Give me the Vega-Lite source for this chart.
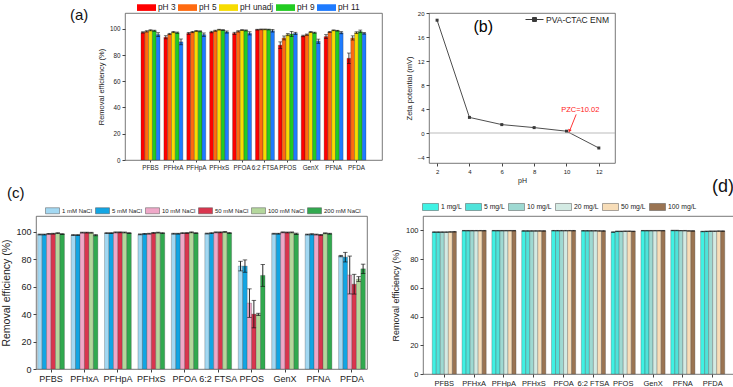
{
  "$schema": "https://vega.github.io/schema/vega-lite/v6.json",
  "padding": {"left": 1, "top": -3, "right": 0, "bottom": 0},
  "background": "white",
  "vconcat": [
    {
      "hconcat": [
        {"width": 89, "height": 1, "view": {"stroke": null}, "data": {"values": []}, "mark": "point", "encoding": {}},
        {
          "width": 257, "height": 147,
          "data": {"name": "a"},
          "title": {"text": "(a)", "anchor": "start", "frame": "group", "fontSize": 15, "dx": -55, "dy": 25, "offset": 0},
          "encoding": {
            "x": {"field": "cmp", "type": "nominal", "sort": ["PFBS","PFHxA","PFHpA","PFHxS","PFOA","6:2 FTSA","PFOS","GenX","PFNA","PFDA"], "scale": {"paddingInner": 0.17, "paddingOuter": 0.7}, "axis": {"title": null, "labelAngle": 0, "labelFontSize": 6.3, "labelPadding": 2, "tickSize": 2}},
            "xOffset": {"field": "grp", "type": "nominal", "sort": ["pH 3","pH 5","pH unadj","pH 9","pH 11"]},
            "y": {"field": "v", "type": "quantitative", "scale": {"domain": [0, 112], "nice": false}, "axis": {"values": [0,20,40,60,80,100], "tickCount": 20, "format": "d", "title": "Removal efficiency (%)", "titleFontSize": 7.5, "labelFontSize": 6.3, "titlePadding": 4}}
          },
          "layer": [
            {"mark": {"type": "bar", "stroke": "#333", "strokeWidth": 0.3},
             "encoding": {"color": {"field": "grp", "type": "nominal", "sort": ["pH 3","pH 5","pH unadj","pH 9","pH 11"],
               "scale": {"domain": ["pH 3","pH 5","pH unadj","pH 9","pH 11"], "range": ["#FF0000","#FF6A10","#F7DC00","#22CC22","#1E7BFF"]},
               "legend": {"orient": "none", "legendX": 12, "legendY": -15, "direction": "horizontal", "title": null, "symbolType": "M-1,-0.35H1V0.35H-1Z", "symbolSize": 361, "symbolOpacity": 1, "symbolStrokeWidth": 0, "labelFontSize": 8.3, "labelOffset": 2, "columnPadding": 2}}}},
            {"mark": {"type": "errorbar", "ticks": true, "color": "#111", "thickness": 0.8}, "encoding": {"yError": {"field": "e"}}}
          ]
        },
        {"width": 47, "height": 1, "view": {"stroke": null}, "data": {"values": []}, "mark": "point", "encoding": {}},
        {
          "width": 186, "height": 150,
          "layer": [
            {"data": {"name": "b"},
             "mark": {"type": "line", "strokeWidth": 0.9, "point": {"shape": "square", "size": 9, "filled": true}},
             "encoding": {
               "x": {"field": "pH", "type": "quantitative", "scale": {"domain": [1.5, 13], "nice": false, "zero": false}, "axis": {"values": [2,4,6,8,10,12], "tickCount": 20, "format": "d", "labelOverlap": false, "title": "pH", "titleFontSize": 7, "titlePadding": 2, "labelFontSize": 6, "tickSize": 3}},
               "y": {"field": "zeta", "type": "quantitative", "scale": {"domain": [-5, 20], "nice": false, "zero": false}, "axis": {"values": [-4,0,4,8,12,16,20], "tickCount": 20, "format": "d", "labelOverlap": false, "title": "Zeta potential (mV)", "titleFontSize": 7.5, "labelFontSize": 6, "titlePadding": 4}},
               "color": {"field": "series", "type": "nominal", "scale": {"range": ["#3a3a3a"]},
                 "legend": {"orient": "none", "legendX": 96, "legendY": -3, "title": null, "symbolType": "M-1,0H1M-0.22,-0.22H0.22V0.22H-0.22Z", "symbolSize": 324, "symbolStrokeWidth": 1, "symbolFillColor": "#3a3a3a", "labelFontSize": 8.5, "labelOffset": 2}}
             }},
            {"data": {"values": [{}]}, "mark": {"type": "rule", "color": "#aaaaaa", "strokeWidth": 0.8}, "encoding": {"y": {"datum": 0, "type": "quantitative"}}},
            {"data": {"values": [{}]}, "mark": {"type": "text", "fontSize": 16, "baseline": "middle", "align": "center"}, "encoding": {"x": {"datum": 4.85}, "y": {"datum": 17.7}, "text": {"value": "(b)"}}},
            {"data": {"values": [{}]}, "mark": {"type": "text", "fontSize": 7.5, "baseline": "middle", "align": "center", "color": "#ff2020"}, "encoding": {"x": {"datum": 10.85}, "y": {"datum": 3.9}, "text": {"value": "PZC=10.02"}}},
            {"data": {"values": [{}]}, "mark": {"type": "rule", "color": "#ff2020", "strokeWidth": 0.9}, "encoding": {"x": {"datum": 10.6}, "y": {"datum": 3.1}, "x2": {"datum": 10.2}, "y2": {"datum": 0.4}}},
            {"data": {"values": [{}]}, "mark": {"type": "point", "shape": "triangle-up", "filled": true, "color": "#ff2020", "size": 14, "angle": 200, "opacity": 1}, "encoding": {"x": {"datum": 10.18}, "y": {"datum": 0.35}}}
          ]
        }
      ],
      "bounds": "flush",
      "spacing": 0,
      "resolve": {"scale": {"color": "independent", "x": "independent", "y": "independent", "xOffset": "independent"}, "legend": {"color": "independent"}}
    },
    {
      "hconcat": [
        {
          "width": 331, "height": 153,
          "data": {"name": "c"},
          "title": {"text": "(c)", "anchor": "start", "frame": "group", "fontSize": 15, "dx": -29, "dy": -2, "offset": 0},
          "encoding": {
            "x": {"field": "cmp", "type": "nominal", "sort": ["PFBS","PFHxA","PFHpA","PFHxS","PFOA","6:2 FTSA","PFOS","GenX","PFNA","PFDA"], "scale": {"paddingInner": 0.2, "paddingOuter": 0.05}, "axis": {"title": null, "labelAngle": 0, "labelFontSize": 9, "labelPadding": 2, "tickSize": 3}},
            "xOffset": {"field": "grp", "type": "nominal", "sort": ["1 mM NaCl","5 mM NaCl","10 mM NaCl","50 mM NaCl","100 mM NaCl","200 mM NaCl"]},
            "y": {"field": "v", "type": "quantitative", "scale": {"domain": [0, 111.5], "nice": false}, "axis": {"values": [0,20,40,60,80,100], "tickCount": 20, "format": "d", "title": "Removal efficiency (%)", "titleFontSize": 10.5, "labelFontSize": 9, "titlePadding": 4}}
          },
          "layer": [
            {"mark": {"type": "bar", "stroke": "#444", "strokeWidth": 0.3},
             "encoding": {"color": {"field": "grp", "type": "nominal",
               "scale": {"domain": ["1 mM NaCl","5 mM NaCl","10 mM NaCl","50 mM NaCl","100 mM NaCl","200 mM NaCl"], "range": ["#A3D8F2","#12A5E3","#EFA8C8","#D9354E","#B4D79C","#31A94F"]},
               "legend": {"orient": "none", "legendX": 9, "legendY": -13, "direction": "horizontal", "title": null, "symbolType": "M-1,-0.43H1V0.43H-1Z", "symbolSize": 196, "symbolOpacity": 1, "symbolStrokeColor": "#555", "symbolStrokeWidth": 0.5, "labelFontSize": 6, "labelOffset": 2, "columnPadding": 1}}}},
            {"mark": {"type": "errorbar", "ticks": true, "color": "#111", "thickness": 0.9}, "encoding": {"yError": {"field": "e"}}}
          ]
        },
        {"width": 56, "height": 1, "view": {"stroke": null}, "data": {"values": []}, "mark": "point", "encoding": {}},
        {
          "width": 311, "height": 158,
          "data": {"name": "d"},
          "title": {"text": "(d)", "anchor": "end", "frame": "group", "fontSize": 18, "dx": 0, "dy": -2, "offset": 0},
          "encoding": {
            "x": {"field": "cmp", "type": "nominal", "sort": ["PFBS","PFHxA","PFHpA","PFHxS","PFOA","6:2 FTSA","PFOS","GenX","PFNA","PFDA"], "scale": {"paddingInner": 0.19, "paddingOuter": 0.31}, "axis": {"title": null, "labelAngle": 0, "labelFontSize": 7.5, "labelPadding": 2, "tickSize": 3}},
            "xOffset": {"field": "grp", "type": "nominal", "sort": ["1 mg/L","5 mg/L","10 mg/L","20 mg/L","50 mg/L","100 mg/L"]},
            "y": {"field": "v", "type": "quantitative", "scale": {"domain": [0, 110], "nice": false}, "axis": {"values": [0,20,40,60,80,100], "tickCount": 20, "format": "d", "title": "Removal efficiency (%)", "titleFontSize": 9, "labelFontSize": 7.5, "titlePadding": 5}}
          },
          "layer": [
            {"mark": {"type": "bar", "stroke": "#444", "strokeWidth": 0.3},
             "encoding": {"color": {"field": "grp", "type": "nominal",
               "scale": {"domain": ["1 mg/L","5 mg/L","10 mg/L","20 mg/L","50 mg/L","100 mg/L"], "range": ["#3FF2E4","#4FE3DA","#9ED9D2","#D3EAE3","#F7DDB8","#9A7452"]},
               "legend": {"orient": "none", "legendX": -1, "legendY": -18, "direction": "horizontal", "title": null, "symbolType": "M-1,-0.44H1V0.44H-1Z", "symbolSize": 256, "symbolOpacity": 1, "symbolStrokeColor": "#555", "symbolStrokeWidth": 0.5, "labelFontSize": 6.8, "labelOffset": 2, "columnPadding": 2}}}},
            {"mark": {"type": "errorbar", "ticks": true, "color": "#111", "thickness": 0.8}, "encoding": {"yError": {"field": "e"}}}
          ]
        }
      ],
      "bounds": "flush",
      "spacing": 0,
      "resolve": {"scale": {"color": "independent", "x": "independent", "y": "independent", "xOffset": "independent"}, "legend": {"color": "independent"}}
    }
  ],
  "spacing": -7,
  "resolve": {"scale": {"color": "independent", "x": "independent", "y": "independent", "xOffset": "independent"}, "legend": {"color": "independent"}},
  "datasets": {
    "a": [
      {"cmp": "PFBS", "grp": "pH 3", "v": 97.2, "e": 0.5}, {"cmp": "PFBS", "grp": "pH 5", "v": 98.0, "e": 0.5}, {"cmp": "PFBS", "grp": "pH unadj", "v": 98.8, "e": 0.4}, {"cmp": "PFBS", "grp": "pH 9", "v": 98.5, "e": 0.4}, {"cmp": "PFBS", "grp": "pH 11", "v": 95.5, "e": 1.5},
      {"cmp": "PFHxA", "grp": "pH 3", "v": 93.5, "e": 1.2}, {"cmp": "PFHxA", "grp": "pH 5", "v": 96.0, "e": 0.5}, {"cmp": "PFHxA", "grp": "pH unadj", "v": 97.5, "e": 0.5}, {"cmp": "PFHxA", "grp": "pH 9", "v": 97.0, "e": 0.5}, {"cmp": "PFHxA", "grp": "pH 11", "v": 90.0, "e": 2.2},
      {"cmp": "PFHpA", "grp": "pH 3", "v": 96.5, "e": 0.7}, {"cmp": "PFHpA", "grp": "pH 5", "v": 97.5, "e": 0.5}, {"cmp": "PFHpA", "grp": "pH unadj", "v": 98.3, "e": 0.4}, {"cmp": "PFHpA", "grp": "pH 9", "v": 98.0, "e": 0.4}, {"cmp": "PFHpA", "grp": "pH 11", "v": 95.5, "e": 1.3},
      {"cmp": "PFHxS", "grp": "pH 3", "v": 97.5, "e": 0.6}, {"cmp": "PFHxS", "grp": "pH 5", "v": 98.5, "e": 0.4}, {"cmp": "PFHxS", "grp": "pH unadj", "v": 99.3, "e": 0.3}, {"cmp": "PFHxS", "grp": "pH 9", "v": 99.0, "e": 0.3}, {"cmp": "PFHxS", "grp": "pH 11", "v": 97.5, "e": 0.8},
      {"cmp": "PFOA", "grp": "pH 3", "v": 96.5, "e": 0.8}, {"cmp": "PFOA", "grp": "pH 5", "v": 98.0, "e": 0.5}, {"cmp": "PFOA", "grp": "pH unadj", "v": 99.0, "e": 0.3}, {"cmp": "PFOA", "grp": "pH 9", "v": 98.7, "e": 0.4}, {"cmp": "PFOA", "grp": "pH 11", "v": 96.5, "e": 1.2},
      {"cmp": "6:2 FTSA", "grp": "pH 3", "v": 99.3, "e": 0.3}, {"cmp": "6:2 FTSA", "grp": "pH 5", "v": 99.5, "e": 0.3}, {"cmp": "6:2 FTSA", "grp": "pH unadj", "v": 99.5, "e": 0.3}, {"cmp": "6:2 FTSA", "grp": "pH 9", "v": 99.4, "e": 0.3}, {"cmp": "6:2 FTSA", "grp": "pH 11", "v": 98.5, "e": 1.0},
      {"cmp": "PFOS", "grp": "pH 3", "v": 87.5, "e": 2.5}, {"cmp": "PFOS", "grp": "pH 5", "v": 93.0, "e": 1.5}, {"cmp": "PFOS", "grp": "pH unadj", "v": 95.5, "e": 0.8}, {"cmp": "PFOS", "grp": "pH 9", "v": 96.0, "e": 2.0}, {"cmp": "PFOS", "grp": "pH 11", "v": 96.5, "e": 0.8},
      {"cmp": "GenX", "grp": "pH 3", "v": 94.5, "e": 0.6}, {"cmp": "GenX", "grp": "pH 5", "v": 95.5, "e": 0.5}, {"cmp": "GenX", "grp": "pH unadj", "v": 97.5, "e": 0.4}, {"cmp": "GenX", "grp": "pH 9", "v": 97.0, "e": 0.4}, {"cmp": "GenX", "grp": "pH 11", "v": 90.5, "e": 1.6},
      {"cmp": "PFNA", "grp": "pH 3", "v": 94.0, "e": 1.5}, {"cmp": "PFNA", "grp": "pH 5", "v": 97.5, "e": 0.4}, {"cmp": "PFNA", "grp": "pH unadj", "v": 98.8, "e": 0.3}, {"cmp": "PFNA", "grp": "pH 9", "v": 98.5, "e": 0.3}, {"cmp": "PFNA", "grp": "pH 11", "v": 97.0, "e": 0.8},
      {"cmp": "PFDA", "grp": "pH 3", "v": 77.5, "e": 4.0}, {"cmp": "PFDA", "grp": "pH 5", "v": 93.0, "e": 1.6}, {"cmp": "PFDA", "grp": "pH unadj", "v": 97.0, "e": 0.7}, {"cmp": "PFDA", "grp": "pH 9", "v": 98.0, "e": 1.0}, {"cmp": "PFDA", "grp": "pH 11", "v": 96.5, "e": 0.6}
    ],
    "b": [
      {"series": "PVA-CTAC ENM", "pH": 2, "zeta": 18.8},
      {"series": "PVA-CTAC ENM", "pH": 4, "zeta": 2.6},
      {"series": "PVA-CTAC ENM", "pH": 6, "zeta": 1.4},
      {"series": "PVA-CTAC ENM", "pH": 8, "zeta": 0.9},
      {"series": "PVA-CTAC ENM", "pH": 10, "zeta": 0.3},
      {"series": "PVA-CTAC ENM", "pH": 12, "zeta": -2.5}
    ],
    "c": [
      {"cmp": "PFBS", "grp": "1 mM NaCl", "v": 98.0, "e": 0.3}, {"cmp": "PFBS", "grp": "5 mM NaCl", "v": 98.0, "e": 0.3}, {"cmp": "PFBS", "grp": "10 mM NaCl", "v": 98.5, "e": 0.3}, {"cmp": "PFBS", "grp": "50 mM NaCl", "v": 98.6, "e": 0.3}, {"cmp": "PFBS", "grp": "100 mM NaCl", "v": 99.0, "e": 0.3}, {"cmp": "PFBS", "grp": "200 mM NaCl", "v": 98.3, "e": 0.3},
      {"cmp": "PFHxA", "grp": "1 mM NaCl", "v": 97.6, "e": 0.3}, {"cmp": "PFHxA", "grp": "5 mM NaCl", "v": 97.6, "e": 0.3}, {"cmp": "PFHxA", "grp": "10 mM NaCl", "v": 99.4, "e": 0.3}, {"cmp": "PFHxA", "grp": "50 mM NaCl", "v": 99.4, "e": 0.3}, {"cmp": "PFHxA", "grp": "100 mM NaCl", "v": 99.3, "e": 0.3}, {"cmp": "PFHxA", "grp": "200 mM NaCl", "v": 97.5, "e": 0.4},
      {"cmp": "PFHpA", "grp": "1 mM NaCl", "v": 99.0, "e": 0.3}, {"cmp": "PFHpA", "grp": "5 mM NaCl", "v": 99.0, "e": 0.3}, {"cmp": "PFHpA", "grp": "10 mM NaCl", "v": 99.6, "e": 0.3}, {"cmp": "PFHpA", "grp": "50 mM NaCl", "v": 99.6, "e": 0.3}, {"cmp": "PFHpA", "grp": "100 mM NaCl", "v": 99.5, "e": 0.3}, {"cmp": "PFHpA", "grp": "200 mM NaCl", "v": 99.0, "e": 0.3},
      {"cmp": "PFHxS", "grp": "1 mM NaCl", "v": 98.1, "e": 0.3}, {"cmp": "PFHxS", "grp": "5 mM NaCl", "v": 98.5, "e": 0.3}, {"cmp": "PFHxS", "grp": "10 mM NaCl", "v": 98.6, "e": 0.3}, {"cmp": "PFHxS", "grp": "50 mM NaCl", "v": 99.2, "e": 0.3}, {"cmp": "PFHxS", "grp": "100 mM NaCl", "v": 99.4, "e": 0.3}, {"cmp": "PFHxS", "grp": "200 mM NaCl", "v": 99.0, "e": 0.3},
      {"cmp": "PFOA", "grp": "1 mM NaCl", "v": 98.6, "e": 0.3}, {"cmp": "PFOA", "grp": "5 mM NaCl", "v": 98.6, "e": 0.3}, {"cmp": "PFOA", "grp": "10 mM NaCl", "v": 99.0, "e": 0.3}, {"cmp": "PFOA", "grp": "50 mM NaCl", "v": 99.1, "e": 0.3}, {"cmp": "PFOA", "grp": "100 mM NaCl", "v": 99.6, "e": 0.3}, {"cmp": "PFOA", "grp": "200 mM NaCl", "v": 99.0, "e": 0.3},
      {"cmp": "6:2 FTSA", "grp": "1 mM NaCl", "v": 98.7, "e": 0.3}, {"cmp": "6:2 FTSA", "grp": "5 mM NaCl", "v": 99.0, "e": 0.3}, {"cmp": "6:2 FTSA", "grp": "10 mM NaCl", "v": 99.6, "e": 0.3}, {"cmp": "6:2 FTSA", "grp": "50 mM NaCl", "v": 99.6, "e": 0.3}, {"cmp": "6:2 FTSA", "grp": "100 mM NaCl", "v": 99.9, "e": 0.3}, {"cmp": "6:2 FTSA", "grp": "200 mM NaCl", "v": 99.1, "e": 0.3},
      {"cmp": "PFOS", "grp": "1 mM NaCl", "v": 75.0, "e": 3.5}, {"cmp": "PFOS", "grp": "5 mM NaCl", "v": 75.0, "e": 4.5}, {"cmp": "PFOS", "grp": "10 mM NaCl", "v": 48.0, "e": 10.4}, {"cmp": "PFOS", "grp": "50 mM NaCl", "v": 40.0, "e": 10.0}, {"cmp": "PFOS", "grp": "100 mM NaCl", "v": 39.8, "e": 0.8}, {"cmp": "PFOS", "grp": "200 mM NaCl", "v": 68.2, "e": 8.0},
      {"cmp": "GenX", "grp": "1 mM NaCl", "v": 98.6, "e": 0.3}, {"cmp": "GenX", "grp": "5 mM NaCl", "v": 98.6, "e": 0.3}, {"cmp": "GenX", "grp": "10 mM NaCl", "v": 99.6, "e": 0.3}, {"cmp": "GenX", "grp": "50 mM NaCl", "v": 99.5, "e": 0.3}, {"cmp": "GenX", "grp": "100 mM NaCl", "v": 99.5, "e": 0.3}, {"cmp": "GenX", "grp": "200 mM NaCl", "v": 98.5, "e": 0.5},
      {"cmp": "PFNA", "grp": "1 mM NaCl", "v": 98.0, "e": 0.3}, {"cmp": "PFNA", "grp": "5 mM NaCl", "v": 98.2, "e": 0.4}, {"cmp": "PFNA", "grp": "10 mM NaCl", "v": 98.0, "e": 0.3}, {"cmp": "PFNA", "grp": "50 mM NaCl", "v": 97.7, "e": 0.3}, {"cmp": "PFNA", "grp": "100 mM NaCl", "v": 98.9, "e": 0.3}, {"cmp": "PFNA", "grp": "200 mM NaCl", "v": 98.6, "e": 0.3},
      {"cmp": "PFDA", "grp": "1 mM NaCl", "v": 82.3, "e": 0.5}, {"cmp": "PFDA", "grp": "5 mM NaCl", "v": 81.5, "e": 3.5}, {"cmp": "PFDA", "grp": "10 mM NaCl", "v": 68.5, "e": 13.8}, {"cmp": "PFDA", "grp": "50 mM NaCl", "v": 61.8, "e": 7.2}, {"cmp": "PFDA", "grp": "100 mM NaCl", "v": 65.5, "e": 1.8}, {"cmp": "PFDA", "grp": "200 mM NaCl", "v": 73.0, "e": 3.4}
    ],
    "d": [
      {"cmp": "PFBS", "grp": "1 mg/L", "v": 98.8, "e": 0.2}, {"cmp": "PFBS", "grp": "5 mg/L", "v": 98.8, "e": 0.2}, {"cmp": "PFBS", "grp": "10 mg/L", "v": 98.8, "e": 0.2}, {"cmp": "PFBS", "grp": "20 mg/L", "v": 98.8, "e": 0.2}, {"cmp": "PFBS", "grp": "50 mg/L", "v": 98.9, "e": 0.2}, {"cmp": "PFBS", "grp": "100 mg/L", "v": 99.0, "e": 0.2},
      {"cmp": "PFHxA", "grp": "1 mg/L", "v": 99.8, "e": 0.2}, {"cmp": "PFHxA", "grp": "5 mg/L", "v": 99.8, "e": 0.2}, {"cmp": "PFHxA", "grp": "10 mg/L", "v": 99.8, "e": 0.2}, {"cmp": "PFHxA", "grp": "20 mg/L", "v": 99.8, "e": 0.2}, {"cmp": "PFHxA", "grp": "50 mg/L", "v": 99.8, "e": 0.2}, {"cmp": "PFHxA", "grp": "100 mg/L", "v": 99.8, "e": 0.2},
      {"cmp": "PFHpA", "grp": "1 mg/L", "v": 99.8, "e": 0.2}, {"cmp": "PFHpA", "grp": "5 mg/L", "v": 99.8, "e": 0.2}, {"cmp": "PFHpA", "grp": "10 mg/L", "v": 99.8, "e": 0.2}, {"cmp": "PFHpA", "grp": "20 mg/L", "v": 99.8, "e": 0.2}, {"cmp": "PFHpA", "grp": "50 mg/L", "v": 99.8, "e": 0.2}, {"cmp": "PFHpA", "grp": "100 mg/L", "v": 99.8, "e": 0.2},
      {"cmp": "PFHxS", "grp": "1 mg/L", "v": 99.6, "e": 0.2}, {"cmp": "PFHxS", "grp": "5 mg/L", "v": 99.6, "e": 0.2}, {"cmp": "PFHxS", "grp": "10 mg/L", "v": 99.6, "e": 0.2}, {"cmp": "PFHxS", "grp": "20 mg/L", "v": 99.6, "e": 0.2}, {"cmp": "PFHxS", "grp": "50 mg/L", "v": 99.6, "e": 0.2}, {"cmp": "PFHxS", "grp": "100 mg/L", "v": 99.6, "e": 0.2},
      {"cmp": "PFOA", "grp": "1 mg/L", "v": 99.8, "e": 0.2}, {"cmp": "PFOA", "grp": "5 mg/L", "v": 99.8, "e": 0.2}, {"cmp": "PFOA", "grp": "10 mg/L", "v": 99.8, "e": 0.2}, {"cmp": "PFOA", "grp": "20 mg/L", "v": 99.8, "e": 0.2}, {"cmp": "PFOA", "grp": "50 mg/L", "v": 99.8, "e": 0.2}, {"cmp": "PFOA", "grp": "100 mg/L", "v": 99.8, "e": 0.2},
      {"cmp": "6:2 FTSA", "grp": "1 mg/L", "v": 99.7, "e": 0.2}, {"cmp": "6:2 FTSA", "grp": "5 mg/L", "v": 99.7, "e": 0.2}, {"cmp": "6:2 FTSA", "grp": "10 mg/L", "v": 99.7, "e": 0.2}, {"cmp": "6:2 FTSA", "grp": "20 mg/L", "v": 99.7, "e": 0.2}, {"cmp": "6:2 FTSA", "grp": "50 mg/L", "v": 99.6, "e": 0.2}, {"cmp": "6:2 FTSA", "grp": "100 mg/L", "v": 99.6, "e": 0.2},
      {"cmp": "PFOS", "grp": "1 mg/L", "v": 98.8, "e": 0.2}, {"cmp": "PFOS", "grp": "5 mg/L", "v": 99.3, "e": 0.2}, {"cmp": "PFOS", "grp": "10 mg/L", "v": 99.3, "e": 0.2}, {"cmp": "PFOS", "grp": "20 mg/L", "v": 99.4, "e": 0.2}, {"cmp": "PFOS", "grp": "50 mg/L", "v": 99.4, "e": 0.2}, {"cmp": "PFOS", "grp": "100 mg/L", "v": 99.3, "e": 0.2},
      {"cmp": "GenX", "grp": "1 mg/L", "v": 99.8, "e": 0.2}, {"cmp": "GenX", "grp": "5 mg/L", "v": 99.8, "e": 0.2}, {"cmp": "GenX", "grp": "10 mg/L", "v": 99.8, "e": 0.2}, {"cmp": "GenX", "grp": "20 mg/L", "v": 99.8, "e": 0.2}, {"cmp": "GenX", "grp": "50 mg/L", "v": 99.8, "e": 0.2}, {"cmp": "GenX", "grp": "100 mg/L", "v": 99.8, "e": 0.2},
      {"cmp": "PFNA", "grp": "1 mg/L", "v": 99.9, "e": 0.2}, {"cmp": "PFNA", "grp": "5 mg/L", "v": 99.9, "e": 0.2}, {"cmp": "PFNA", "grp": "10 mg/L", "v": 99.8, "e": 0.2}, {"cmp": "PFNA", "grp": "20 mg/L", "v": 99.8, "e": 0.2}, {"cmp": "PFNA", "grp": "50 mg/L", "v": 99.6, "e": 0.2}, {"cmp": "PFNA", "grp": "100 mg/L", "v": 99.6, "e": 0.2},
      {"cmp": "PFDA", "grp": "1 mg/L", "v": 99.2, "e": 0.2}, {"cmp": "PFDA", "grp": "5 mg/L", "v": 99.3, "e": 0.2}, {"cmp": "PFDA", "grp": "10 mg/L", "v": 99.4, "e": 0.2}, {"cmp": "PFDA", "grp": "20 mg/L", "v": 99.4, "e": 0.2}, {"cmp": "PFDA", "grp": "50 mg/L", "v": 99.5, "e": 0.2}, {"cmp": "PFDA", "grp": "100 mg/L", "v": 99.5, "e": 0.2}
    ]
  },
  "config": {
    "font": "Liberation Sans",
    "view": {"stroke": "#555555", "strokeWidth": 0.8},
    "axis": {"grid": false, "domain": false, "labelOverlap": false, "labelColor": "#222222", "titleColor": "#222222", "tickColor": "#444444", "tickSize": 3, "titleFontWeight": "normal", "labelFont": "Liberation Sans", "titleFont": "Liberation Sans"},
    "legend": {"labelColor": "#222222", "labelFont": "Liberation Sans", "padding": 0},
    "title": {"fontWeight": "normal", "color": "#111111", "font": "Liberation Sans"}
  }
}
